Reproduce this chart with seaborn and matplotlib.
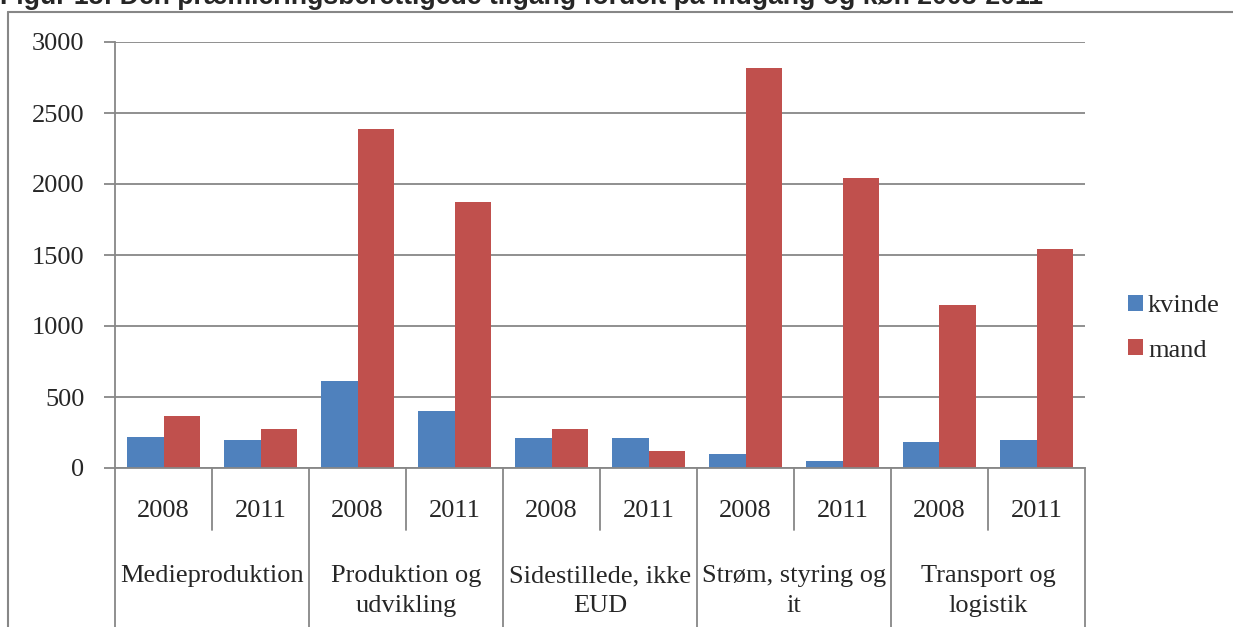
"""Tilgang fordelt på indgang og køn, 2008 og 2011."""
import matplotlib
matplotlib.use("Agg")
import matplotlib.pyplot as plt
from matplotlib.lines import Line2D
import pandas as pd
import seaborn as sns

categories = ["Medieproduktion", "Produktion og\nudvikling", "Sidestillede, ikke\nEUD",
              "Strøm, styring og\nit", "Transport og\nlogistik"]
years = ["2008", "2011"]
kvinde = [220, 200, 615, 400, 210, 210, 100, 50, 180, 200]
mand = [368, 275, 2390, 1870, 275, 120, 2820, 2040, 1150, 1540]
title = "Figur 15: Den præmieringsberettigede tilgang fordelt på indgang og køn 2008-2011"

slots = [f"{c}|{y}" for c in categories for y in years]
df = pd.DataFrame({
    "slot": slots * 2,
    "køn": ["kvinde"] * len(slots) + ["mand"] * len(slots),
    "antal": kvinde + mand,
})

sns.set_style("white")
plt.rcParams["font.family"] = ["Liberation Serif", "DejaVu Serif"]
GREY = "#878787"
W, H = 1233, 627

fig = plt.figure(figsize=(W / 100, H / 100), dpi=100)
ax = fig.add_axes([115 / W, 1 - 468 / H, (1085 - 115) / W, (468 - 42) / H])

sns.barplot(data=df, x="slot", y="antal", hue="køn", order=slots,
            hue_order=["kvinde", "mand"], palette=["#4F81BD", "#C0504D"],
            width=0.76, linewidth=0, saturation=1, ax=ax)

ax.set_xlim(-0.5, len(slots) - 0.5)
ax.set_ylim(0, 3000)
ax.set_yticks(range(0, 3001, 500))
ax.yaxis.grid(True, color=GREY, lw=1.3)
ax.set_axisbelow(True)
ax.tick_params(axis="y", labelsize=19, length=8, width=1.3, color=GREY, pad=14, left=True)
ax.set_xticks([])
ax.set_xlabel("")
ax.set_ylabel("")
for s in ["top", "right"]:
    ax.spines[s].set_visible(False)
for s in ["left", "bottom"]:
    ax.spines[s].set_color(GREY)
    ax.spines[s].set_linewidth(1.3)

# two-level category axis
trans = ax.get_xaxis_transform()
px = 1 / (468 - 42)
for i, s in enumerate(slots):
    ax.text(i, -(517 - 468) * px, s.split("|")[1], transform=trans,
            ha="center", va="baseline", fontsize=19)
for i in range(len(slots) + 1):
    x = i - 0.5
    bottom = (627 - 468) if i % 2 == 0 else (530 - 468)
    ax.add_line(Line2D([x, x], [0, -bottom * px], transform=trans,
                       color=GREY, lw=1.3, clip_on=False))
for j, c in enumerate(categories):
    ax.text(2 * j + 0.5, -(565 - 468) * px, c, transform=trans,
            ha="center", va="top", fontsize=19, linespacing=1.45)

sns.move_legend(ax, "center left", bbox_to_anchor=(1.02, 0.328), title=None,
                frameon=False, fontsize=19, handlelength=0.55, handleheight=0.55,
                handletextpad=0.2, labelspacing=0.85)

# outer frame and cut-off heading
fig.add_artist(Line2D([8 / W, 8 / W], [0, 1 - 12 / H], color=GREY, lw=1.5))
fig.add_artist(Line2D([8 / W, 1], [1 - 12 / H, 1 - 12 / H], color=GREY, lw=1.5))
fig.text(0.0, 1 - 4.5 / H, title, ha="left", va="baseline", fontsize=19.2,
         fontweight="bold", family="Liberation Sans")

fig.savefig("out.png", dpi=100)
